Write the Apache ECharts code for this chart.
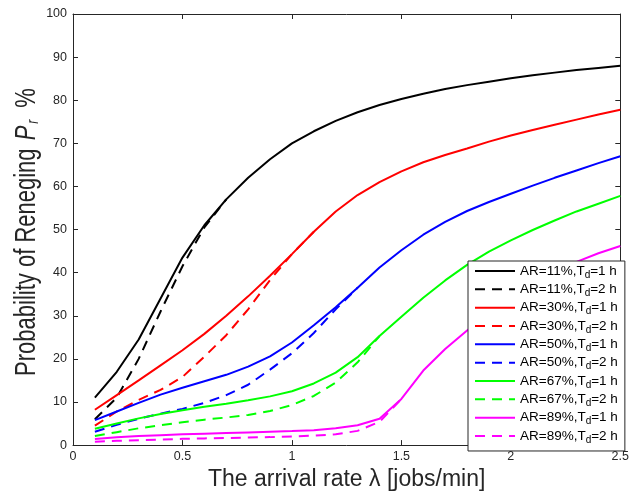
<!DOCTYPE html>
<html>
<head>
<meta charset="utf-8">
<script src="https://cdn.jsdelivr.net/npm/echarts@6/dist/echarts.min.js"></script>
<style>
  html, body { margin: 0; padding: 0; background: #fff; }
  #chart { width: 632px; height: 496px; }
</style>
</head>
<body>
<div id="chart"></div>
<script>
// Arrival rate samples (jobs/min)
const xValues = [0.1, 0.2, 0.3, 0.4, 0.5, 0.6, 0.7, 0.8, 0.9, 1.0, 1.1, 1.2, 1.3,
                 1.4, 1.5, 1.6, 1.7, 1.8, 1.9, 2.0, 2.1, 2.2, 2.3, 2.4, 2.5];

// Probability of reneging (%) per arrival ratio AR and deadline Td
const ar11_1h = [11, 17, 24.5, 34, 43.5, 51, 57, 62, 66.3, 70, 72.8, 75.2, 77.2,
                 78.9, 80.3, 81.5, 82.6, 83.5, 84.3, 85.1, 85.8, 86.4, 87, 87.5, 88];
const ar11_2h = [6, 11, 20, 31, 41.5, 50.5, 57];
const ar30_1h = [8.2, 11.6, 15, 18.5, 22, 25.8, 30, 34.5, 39.3, 44.3, 49.5, 54.2, 58,
                 61, 63.5, 65.6, 67.3, 68.8, 70.4, 71.8, 73.1, 74.3, 75.5, 76.7, 77.8];
const ar30_2h = [4.5, 7.8, 10.5, 12.8, 15.8, 20.5, 25.5, 31.5, 38.3, 44.3, 49.5];
const ar50_1h = [5.8, 7.8, 9.8, 11.7, 13.3, 14.8, 16.3, 18.2, 20.6, 23.8, 27.8, 32, 36.5,
                 41.2, 45.2, 48.8, 51.8, 54.3, 56.4, 58.3, 60.2, 62, 63.7, 65.4, 67];
const ar50_2h = [3.1, 4.7, 6.1, 7.3, 8.4, 9.8, 11.6, 14, 17.5, 21.3, 26, 31.5, 36.5];
const ar67_1h = [3.8, 5.0, 6.2, 7.2, 8.1, 8.9, 9.6, 10.4, 11.3, 12.5, 14.3, 16.8, 20.4,
                 25.3, 29.8, 34.2, 38.2, 41.8, 44.9, 47.5, 49.9, 52.1, 54.2, 56, 57.8];
const ar67_2h = [2.1, 3.0, 3.9, 4.6, 5.3, 5.9, 6.4, 7.0, 7.9, 9.3, 11.4, 14.5, 19.2, 25.3];
const ar89_1h = [1.4, 1.8, 2.1, 2.3, 2.5, 2.65, 2.8, 2.95, 3.1, 3.25, 3.45, 3.9, 4.6,
                 6.1, 10.7, 17.3, 22.3, 26.6, 30.5, 34.2, 37.4, 40.2, 42.5, 44.5, 46.2];
const ar89_2h = [0.8, 1.0, 1.15, 1.3, 1.45, 1.55, 1.65, 1.75, 1.85, 2.0, 2.2, 2.5, 3.3, 5.4, 10.7];

const seriesNames = [
  'AR=11%,T_d=1 h', 'AR=11%,T_d=2 h',
  'AR=30%,T_d=1 h', 'AR=30%,T_d=2 h',
  'AR=50%,T_d=1 h', 'AR=50%,T_d=2 h',
  'AR=67%,T_d=1 h', 'AR=67%,T_d=2 h',
  'AR=89%,T_d=1 h', 'AR=89%,T_d=2 h'
];
const seriesValues = [ar11_1h, ar11_2h, ar30_1h, ar30_2h, ar50_1h, ar50_2h,
                      ar67_1h, ar67_2h, ar89_1h, ar89_2h];
const seriesColors = ['#000000', '#000000', '#ff0000', '#ff0000', '#0000ff', '#0000ff',
                      '#00ff00', '#00ff00', '#ff00ff', '#ff00ff'];

const xTicks = { min: 0, max: 2.5, interval: 0.5 };
const yTicks = { min: 0, max: 100, interval: 10 };

const xTitle = 'The arrival rate λ [jobs/min]';
const yTitle = 'Probability of Reneging {it|P}{sub|r}{gap| }%';

const FONT = 'Liberation Sans, Arial, Helvetica, sans-serif';
const AXIS_COLOR = '#262626';

const series = seriesNames.map((name, k) => ({
  name: name,
  type: 'line',
  symbol: 'none',
  smooth: false,
  xAxisIndex: 0,
  yAxisIndex: 0,
  lineStyle: {
    color: seriesColors[k],
    width: 2,
    type: k % 2 === 1 ? [10, 7] : 'solid'
  },
  itemStyle: { color: seriesColors[k] },
  emphasis: { disabled: true },
  data: seriesValues[k].map((v, i) => [xValues[i], v])
}));

function frameAxis(base, extra) {
  return Object.assign({
    type: 'value',
    axisLine: { show: true, onZero: false, lineStyle: { color: AXIS_COLOR, width: 1 } },
    axisTick: { show: true, inside: true, length: 5, lineStyle: { color: AXIS_COLOR } },
    splitLine: { show: false }
  }, base, extra);
}

const chart = echarts.init(document.getElementById('chart'), null, { renderer: 'canvas' });
chart.setOption({
  animation: false,
  backgroundColor: '#ffffff',
  grid: { left: 73, right: 8, top: 14, bottom: 46, containLabel: false },
  xAxis: [
    frameAxis(xTicks, {
      position: 'bottom',
      axisLabel: { show: true, margin: 5, fontSize: 12.5, color: AXIS_COLOR, fontFamily: FONT },
      name: xTitle,
      nameLocation: 'middle',
      nameGap: 17,
      nameTextStyle: { fontSize: 23, color: AXIS_COLOR, fontFamily: FONT }
    }),
    frameAxis(xTicks, { position: 'top', axisLabel: { show: false } })
  ],
  yAxis: [
    frameAxis(yTicks, {
      position: 'left',
      axisLabel: { show: true, margin: 6, fontSize: 12.5, color: AXIS_COLOR, fontFamily: FONT }
    }),
    frameAxis(yTicks, { position: 'right', axisLabel: { show: false } })
  ],
  // Rotated y-axis title with italic P and subscript r
  graphic: [{
    type: 'text',
    x: 27,
    y: 232,
    rotation: Math.PI / 2,
    scaleY: 1.3,
    silent: true,
    style: {
      text: yTitle,
      align: 'center',
      verticalAlign: 'middle',
      fill: AXIS_COLOR,
      fontSize: 22,
      fontFamily: FONT,
      lineHeight: 22,
      rich: {
        it: { fontSize: 22, fontStyle: 'italic', fill: AXIS_COLOR, fontFamily: FONT,
              lineHeight: 22, padding: [0, 2, 0, 2] },
        sub: { fontSize: 12, fontStyle: 'italic', fill: AXIS_COLOR, fontFamily: FONT,
               lineHeight: 12, verticalAlign: 'bottom' },
        gap: { width: 12, fontSize: 22, lineHeight: 22 }
      }
    }
  }],
  legend: {
    orient: 'vertical',
    left: 468,
    top: 261,
    padding: [1, 7, 6, 6],
    itemWidth: 40,
    itemHeight: 14,
    itemGap: 0.33,
    selectedMode: false,
    backgroundColor: '#ffffff',
    borderColor: AXIS_COLOR,
    borderWidth: 1,
    borderRadius: 0,
    itemStyle: { opacity: 0 },
    data: seriesNames,
    formatter: name => name.replace('T_d', 'T{sub|d}'),
    textStyle: {
      fontSize: 13.5, color: '#000000', fontFamily: FONT, lineHeight: 18,
      rich: {
        sub: { fontSize: 10, color: '#000000', fontFamily: FONT, lineHeight: 10, verticalAlign: 'bottom' }
      }
    }
  },
  series: series
});
</script>
</body>
</html>
